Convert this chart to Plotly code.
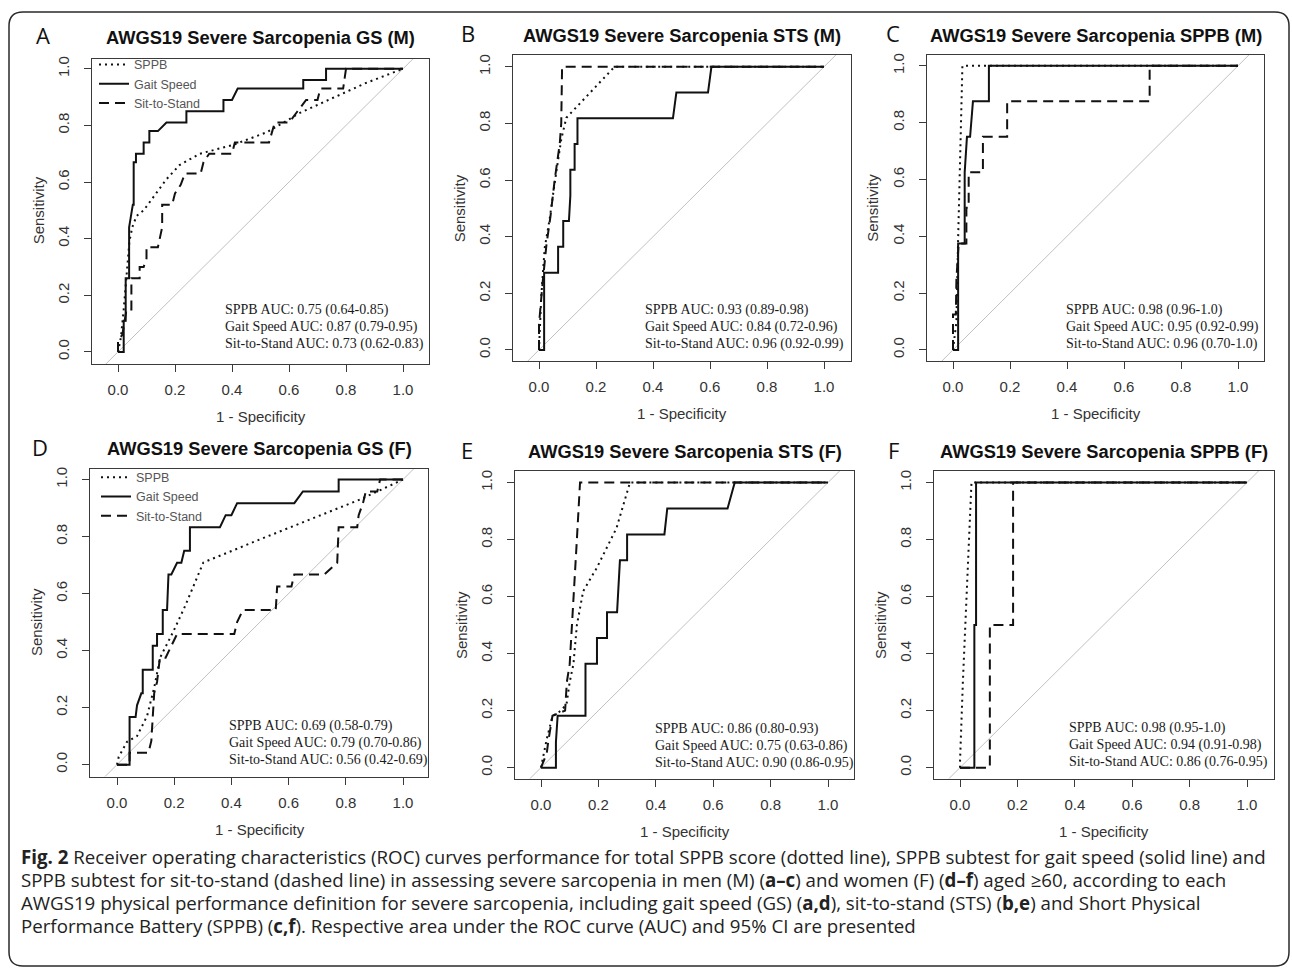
import plotly.graph_objects as go

W, H = 1292, 968

# ---------------- data ----------------
PANEL_LETTERS = ["A", "B", "C", "D", "E", "F"]
TITLES = [
    "AWGS19 Severe Sarcopenia GS (M)",
    "AWGS19 Severe Sarcopenia STS (M)",
    "AWGS19 Severe Sarcopenia SPPB (M)",
    "AWGS19 Severe Sarcopenia GS (F)",
    "AWGS19 Severe Sarcopenia STS (F)",
    "AWGS19 Severe Sarcopenia SPPB (F)",
]
SERIES = ["SPPB", "Gait Speed", "Sit-to-Stand"]
TICKS = [0.0, 0.2, 0.4, 0.6, 0.8, 1.0]
TICK_LABELS = ["0.0", "0.2", "0.4", "0.6", "0.8", "1.0"]
X_LABEL = "1 - Specificity"
Y_LABEL = "Sensitivity"

SPPB_AUC = ["0.75 (0.64-0.85)", "0.93 (0.89-0.98)", "0.98 (0.96-1.0)",
            "0.69 (0.58-0.79)", "0.86 (0.80-0.93)", "0.98 (0.95-1.0)"]
GS_AUC = ["0.87 (0.79-0.95)", "0.84 (0.72-0.96)", "0.95 (0.92-0.99)",
          "0.79 (0.70-0.86)", "0.75 (0.63-0.86)", "0.94 (0.91-0.98)"]
STS_AUC = ["0.73 (0.62-0.83)", "0.96 (0.92-0.99)", "0.96 (0.70-1.0)",
           "0.56 (0.42-0.69)", "0.90 (0.86-0.95)", "0.86 (0.76-0.95)"]

# Panel A  (GS, men)
A_SPPB_X = [0, 0.01, 0.02, 0.03, 0.04, 0.05, 0.065, 0.09, 0.135, 0.17, 0.216, 0.287, 0.40, 0.52, 0.64, 0.75, 0.87, 1.0]
A_SPPB_Y = [0, 0.05, 0.15, 0.26, 0.39, 0.44, 0.48, 0.50, 0.56, 0.61, 0.66, 0.70, 0.73, 0.775, 0.845, 0.895, 0.95, 1.0]
A_GS_X = [0, 0.02, 0.02, 0.027, 0.027, 0.039, 0.039, 0.046, 0.052, 0.055, 0.055, 0.063, 0.063, 0.09, 0.09, 0.11, 0.11,
          0.14, 0.17, 0.24, 0.24, 0.37, 0.37, 0.40, 0.42, 0.65, 0.65, 0.73, 0.73, 1.0]
A_GS_Y = [0, 0, 0.11, 0.11, 0.26, 0.26, 0.44, 0.48, 0.52, 0.52, 0.67, 0.67, 0.70, 0.70, 0.74, 0.74, 0.78,
          0.78, 0.81, 0.81, 0.85, 0.85, 0.89, 0.89, 0.93, 0.93, 0.96, 0.96, 1.0, 1.0]
A_STS_X = [0, 0.0, 0.015, 0.03, 0.047, 0.047, 0.076, 0.076, 0.09, 0.10, 0.10, 0.14, 0.155, 0.155, 0.19, 0.20, 0.22,
           0.235, 0.29, 0.30, 0.32, 0.40, 0.41, 0.53, 0.55, 0.60, 0.63, 0.66, 0.70, 0.71, 0.79, 0.80, 1.0]
A_STS_Y = [0, 0.04, 0.06, 0.15, 0.15, 0.26, 0.26, 0.30, 0.30, 0.33, 0.37, 0.37, 0.44, 0.52, 0.52, 0.56, 0.59,
           0.63, 0.63, 0.67, 0.70, 0.70, 0.74, 0.74, 0.81, 0.81, 0.85, 0.89, 0.89, 0.93, 0.93, 1.0, 1.0]

# Panel B  (STS, men)
B_SPPB_X = [0, 0.008, 0.02, 0.037, 0.055, 0.078, 0.096, 0.178, 0.265, 1.0]
B_SPPB_Y = [0, 0.19, 0.36, 0.46, 0.59, 0.744, 0.82, 0.909, 1.0, 1.0]
B_GS_X = [0, 0.018, 0.018, 0.067, 0.067, 0.085, 0.085, 0.105, 0.11, 0.11, 0.125, 0.125, 0.135, 0.135, 0.47, 0.482,
          0.593, 0.605, 1.0]
B_GS_Y = [0, 0, 0.273, 0.273, 0.364, 0.364, 0.455, 0.455, 0.545, 0.636, 0.636, 0.727, 0.727, 0.818, 0.818, 0.909,
          0.909, 1.0, 1.0]
B_STS_X = [0, 0, 0.012, 0.026, 0.04, 0.055, 0.073, 0.078, 0.081, 1.0]
B_STS_Y = [0, 0.09, 0.23, 0.37, 0.47, 0.60, 0.73, 0.80, 1.0, 1.0]

# Panel C  (SPPB, men)
C_SPPB_X = [0, 0.012, 0.018, 0.033, 1.0]
C_SPPB_Y = [0, 0.10, 0.39, 1.0, 1.0]
C_GS_X = [0, 0.018, 0.018, 0.041, 0.041, 0.049, 0.06, 0.07, 0.126, 0.126, 1.0]
C_GS_Y = [0, 0, 0.375, 0.375, 0.625, 0.75, 0.75, 0.875, 0.875, 1.0, 1.0]
C_STS_X = [0, 0, 0.01, 0.012, 0.02, 0.047, 0.047, 0.055, 0.055, 0.105, 0.105, 0.19, 0.19, 0.69, 0.69, 1.0]
C_STS_Y = [0, 0.125, 0.125, 0.25, 0.375, 0.375, 0.5, 0.5, 0.625, 0.625, 0.75, 0.75, 0.875, 0.875, 1.0, 1.0]

# Panel D  (GS, women)
D_SPPB_X = [0, 0.006, 0.035, 0.07, 0.105, 0.13, 0.151, 0.198, 0.238, 0.279, 0.302, 0.5, 0.7, 0.85, 1.0]
D_SPPB_Y = [0, 0.027, 0.08, 0.10, 0.17, 0.27, 0.376, 0.469, 0.556, 0.655, 0.709, 0.79, 0.87, 0.93, 1.0]
D_GS_X = [0, 0.044, 0.044, 0.065, 0.07, 0.085, 0.09, 0.09, 0.125, 0.125, 0.14, 0.14, 0.16, 0.16, 0.175, 0.18,
          0.19, 0.21, 0.225, 0.235, 0.255, 0.255, 0.36, 0.38, 0.40, 0.42, 0.62, 0.65, 0.775, 0.775, 1.0]
D_GS_Y = [0, 0, 0.167, 0.167, 0.208, 0.25, 0.25, 0.333, 0.333, 0.417, 0.417, 0.458, 0.458, 0.542, 0.542, 0.667,
          0.667, 0.708, 0.708, 0.75, 0.75, 0.833, 0.833, 0.875, 0.875, 0.917, 0.917, 0.958, 0.958, 1.0, 1.0]
D_STS_X = [0, 0.044, 0.044, 0.11, 0.12, 0.13, 0.14, 0.15, 0.17, 0.19, 0.21, 0.41, 0.42, 0.44, 0.555, 0.56, 0.61,
           0.62, 0.725, 0.77, 0.775, 0.84, 0.845, 0.86, 0.87, 0.91, 0.92, 1.0]
D_STS_Y = [0, 0, 0.042, 0.042, 0.083, 0.25, 0.29, 0.375, 0.375, 0.417, 0.458, 0.458, 0.50, 0.542, 0.542, 0.625,
           0.625, 0.667, 0.667, 0.708, 0.833, 0.833, 0.875, 0.917, 0.958, 0.958, 1.0, 1.0]

# Panel E  (STS, women)
E_SPPB_X = [0, 0.01, 0.02, 0.04, 0.07, 0.089, 0.10, 0.113, 0.125, 0.147, 0.194, 0.263, 0.31, 1.0]
E_SPPB_Y = [0, 0.05, 0.10, 0.18, 0.20, 0.223, 0.30, 0.363, 0.50, 0.619, 0.70, 0.84, 1.0, 1.0]
E_GS_X = [0, 0.052, 0.052, 0.058, 0.155, 0.155, 0.195, 0.195, 0.23, 0.23, 0.265, 0.27, 0.275, 0.30, 0.30, 0.43,
          0.44, 0.65, 0.675, 1.0]
E_GS_Y = [0, 0, 0.09, 0.182, 0.182, 0.364, 0.364, 0.455, 0.455, 0.545, 0.545, 0.636, 0.727, 0.727, 0.818, 0.818,
          0.909, 0.909, 1.0, 1.0]
E_STS_X = [0, 0.02, 0.025, 0.04, 0.084, 0.09, 0.10, 0.105, 0.113, 0.113, 0.118, 0.125, 0.136, 1.0]
E_STS_Y = [0, 0.05, 0.09, 0.182, 0.20, 0.30, 0.363, 0.45, 0.549, 0.55, 0.64, 0.80, 1.0, 1.0]

# Panel F  (SPPB, women)
F_SPPB_X = [0, 0.0, 0.01, 0.02, 0.03, 0.04, 1.0]
F_SPPB_Y = [0, 0.02, 0.3, 0.55, 0.8, 1.0, 1.0]
F_GS_X = [0, 0.05, 0.05, 0.056, 0.056, 1.0]
F_GS_Y = [0, 0, 0.5, 0.5, 1.0, 1.0]
F_STS_X = [0, 0.104, 0.104, 0.185, 0.185, 1.0]
F_STS_Y = [0, 0, 0.5, 0.5, 1.0, 1.0]

CAPTION = [
    "<b>Fig. 2</b> Receiver operating characteristics (ROC) curves performance for total SPPB score (dotted line), SPPB subtest for gait speed (solid line) and",
    "SPPB subtest for sit-to-stand (dashed line) in assessing severe sarcopenia in men (M) (<b>a–c</b>) and women (F) (<b>d–f</b>) aged ≥60, according to each",
    "AWGS19 physical performance definition for severe sarcopenia, including gait speed (GS) (<b>a,d</b>), sit-to-stand (STS) (<b>b,e</b>) and Short Physical",
    "Performance Battery (SPPB) (<b>c,f</b>). Respective area under the ROC curve (AUC) and 95% CI are presented",
]

CURVES = [
    [(A_SPPB_X, A_SPPB_Y), (A_GS_X, A_GS_Y), (A_STS_X, A_STS_Y)],
    [(B_SPPB_X, B_SPPB_Y), (B_GS_X, B_GS_Y), (B_STS_X, B_STS_Y)],
    [(C_SPPB_X, C_SPPB_Y), (C_GS_X, C_GS_Y), (C_STS_X, C_STS_Y)],
    [(D_SPPB_X, D_SPPB_Y), (D_GS_X, D_GS_Y), (D_STS_X, D_STS_Y)],
    [(E_SPPB_X, E_SPPB_Y), (E_GS_X, E_GS_Y), (E_STS_X, E_STS_Y)],
    [(F_SPPB_X, F_SPPB_Y), (F_GS_X, F_GS_Y), (F_STS_X, F_STS_Y)],
]

# ---------------- layout geometry (pixels) ----------------
# box left, right, top, bottom ; pixel of x=0, x=1, y=0, y=1
BOXES = [
    (92, 429, 56, 362, 118, 403, 350, 66),
    (513, 851, 52, 359, 539, 824, 348, 64),
    (927, 1264, 52, 359, 953, 1238, 348, 63),
    (90, 428, 467, 776, 117, 403, 764, 478),
    (515, 854, 469, 778, 541, 828, 767, 481),
    (934, 1274, 469, 778, 960, 1247, 767, 481),
]
TITLE_Y = [35, 33, 33, 447, 450, 450]
LETTER_POS = [(43, 32), (468, 30), (893, 30), (40, 445), (467, 448), (893, 448)]
AUC_POS = [(223, 308), (643, 308), (1064, 308), (227, 725), (653, 728), (1067, 727)]
LEGEND_TOP = [47, 461]

DASH = ["2px,4px", "solid", "10px,6px"]
FONT_SANS = "Liberation Sans, Arial, sans-serif"
FONT_SERIF = "Liberation Serif, Times New Roman, serif"
FONT_CAP = "Open Sans, Noto Sans, sans-serif"


def fx(px):
    return px / W


def fy(py):
    return 1 - py / H


fig = go.Figure()
annotations = []

for i in range(6):
    L, R, T, B, x0, x1, y0, y1 = BOXES[i]
    xname = "x" if i == 0 else f"x{i+1}"
    yname = "y" if i == 0 else f"y{i+1}"
    xr = [(L - x0) / (x1 - x0), (R - x0) / (x1 - x0)]
    yr = [(y0 - B) / (y0 - y1), (y0 - T) / (y0 - y1)]
    axis_common = dict(
        showgrid=False, zeroline=False, showline=True, mirror=True,
        linecolor="#3a3a3a", linewidth=1, ticks="outside", ticklen=7,
        tickcolor="#3a3a3a", tickwidth=1, tickvals=TICKS, ticktext=TICK_LABELS,
        tickfont=dict(family=FONT_SANS, size=15, color="#333"),
    )
    fig.layout[("xaxis" if i == 0 else f"xaxis{i+1}")] = dict(
        axis_common, domain=[fx(L), fx(R)], range=xr, anchor=yname, ticklabelstandoff=5)
    fig.layout[("yaxis" if i == 0 else f"yaxis{i+1}")] = dict(
        axis_common, domain=[fy(B), fy(T)], range=yr, anchor=xname, tickangle=-90,
        ticklabelstandoff=9)

    # reference diagonal
    fig.add_trace(go.Scatter(x=[-0.5, 1.5], y=[-0.5, 1.5], mode="lines",
                             line=dict(color="#c0c0c0", width=1), xaxis=xname, yaxis=yname,
                             showlegend=False, hoverinfo="skip"))
    legend_name = None
    if i == 0:
        legend_name = "legend"
    elif i == 3:
        legend_name = "legend2"
    for s, (xs, ys) in enumerate(CURVES[i]):
        tr = dict(x=xs, y=ys, mode="lines", name=SERIES[s],
                  line=dict(color="#111111", width=2, dash=DASH[s]),
                  xaxis=xname, yaxis=yname, showlegend=legend_name is not None)
        if legend_name:
            tr["legend"] = legend_name
        fig.add_trace(go.Scatter(**tr))

    # title
    annotations.append(dict(text=f"<b>{TITLES[i]}</b>", x=fx((L + R) / 2), y=fy(TITLE_Y[i]),
                            xref="paper", yref="paper", showarrow=False, xanchor="center",
                            yanchor="middle", font=dict(family=FONT_SANS, size=18.3, color="#111")))
    # panel letter
    lx, ly = LETTER_POS[i]
    annotations.append(dict(text=PANEL_LETTERS[i], x=fx(lx), y=fy(ly), xref="paper", yref="paper",
                            showarrow=False, xanchor="center", yanchor="middle",
                            font=dict(family=FONT_CAP, size=22, color="#111")))
    # axis titles
    annotations.append(dict(text=X_LABEL, x=fx((x0 + x1) / 2), y=fy(B + 53), xref="paper",
                            yref="paper", showarrow=False, xanchor="center", yanchor="middle",
                            font=dict(family=FONT_SANS, size=15, color="#333")))
    annotations.append(dict(text=Y_LABEL, x=fx(L - 54), y=fy((y0 + y1) / 2), xref="paper",
                            yref="paper", showarrow=False, xanchor="center", yanchor="middle",
                            textangle=-90, font=dict(family=FONT_SANS, size=15, color="#333")))
    # AUC text
    ax, ay = AUC_POS[i]
    lines = [f"SPPB AUC: {SPPB_AUC[i]}", f"Gait Speed AUC: {GS_AUC[i]}",
             f"Sit-to-Stand AUC: {STS_AUC[i]}"]
    for k, line in enumerate(lines):
        annotations.append(dict(text=line, x=fx(ax), y=fy(ay + 17 * k), xref="paper", yref="paper",
                                showarrow=False, xanchor="left", yanchor="middle",
                                font=dict(family=FONT_SERIF, size=14, color="#1a1a1a")))

# caption
CAP_Y = [856, 879, 902, 925]
for k, line in enumerate(CAPTION):
    annotations.append(dict(text=line, x=fx(19), y=fy(CAP_Y[k]), xref="paper", yref="paper",
                            showarrow=False, xanchor="left", yanchor="middle",
                            font=dict(family=FONT_CAP, size=18.7, color="#222")))

# rounded outer border
bx0, bx1, by0, by1, r = 9, 1289, 9, 966, 14
pts = [
    ("M", bx0 + r, by0), ("L", bx1 - r, by0), ("Q", bx1, by0, bx1, by0 + r),
    ("L", bx1, by1 - r), ("Q", bx1, by1, bx1 - r, by1), ("L", bx0 + r, by1),
    ("Q", bx0, by1, bx0, by1 - r), ("L", bx0, by0 + r), ("Q", bx0, by0, bx0 + r, by0),
]
path = ""
for p in pts:
    cmd = p[0]
    coords = p[1:]
    seg = []
    for j in range(0, len(coords), 2):
        seg.append(f"{fx(coords[j]):.6f},{fy(coords[j+1]):.6f}")
    path += cmd + " ".join(seg) + " "
path += "Z"

legend_common = dict(xanchor="left", yanchor="top", bgcolor="rgba(0,0,0,0)", borderwidth=0,
                     font=dict(family=FONT_SANS, size=12.5, color="#555"), tracegroupgap=0,
                     itemwidth=30)

fig.update_layout(
    width=W, height=H, autosize=False,
    margin=dict(l=0, r=0, t=0, b=0),
    paper_bgcolor="white", plot_bgcolor="white",
    annotations=annotations,
    shapes=[dict(type="path", path=path, xref="paper", yref="paper",
                 line=dict(color="#2a2a2a", width=1.5), fillcolor="rgba(0,0,0,0)", layer="below")],
    legend=dict(legend_common, x=fx(94), y=fy(LEGEND_TOP[0])),
    legend2=dict(legend_common, x=fx(96), y=fy(LEGEND_TOP[1])),
    hovermode=False,
)

fig.write_html("out.html", config={"displayModeBar": False, "staticPlot": False},
               post_script="document.body.style.margin='0';document.body.style.padding='0';")
